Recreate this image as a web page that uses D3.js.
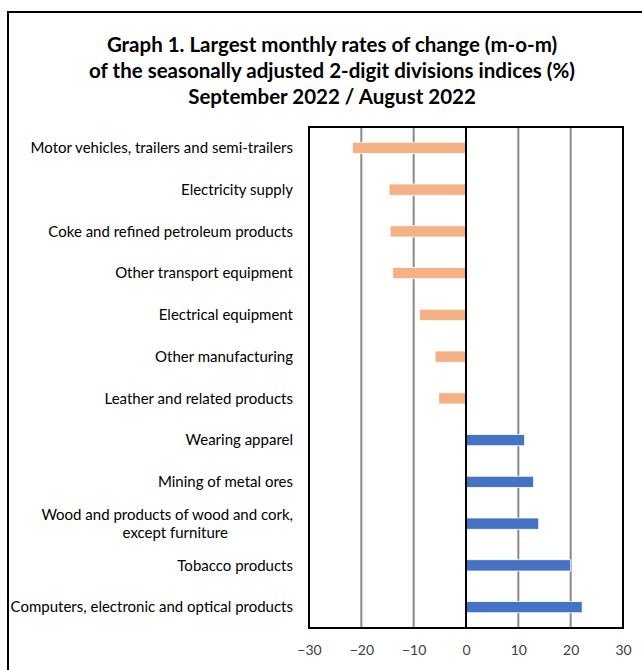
<!DOCTYPE html>
<html>
<head>
<meta charset="utf-8">
<script src="https://cdn.jsdelivr.net/npm/d3@7"></script>
<style>
  body { margin: 0; background: #fff; }
  text { font-family: Lato, "Open Sans", sans-serif; }
</style>
</head>
<body>
<div id="chart"></div>
<script>
var categories = [
    'Motor vehicles, trailers and semi-trailers',
    'Electricity supply',
    'Coke and refined petroleum products',
    'Other transport equipment',
    'Electrical equipment',
    'Other manufacturing',
    'Leather and related products',
    'Wearing apparel',
    'Mining of metal ores',
    'Wood and products of wood and cork,|except furniture',
    'Tobacco products',
    'Computers, electronic and optical products'
];
var values = [-21.7, -14.7, -14.5, -14.0, -8.9, -5.9, -5.2, 11.2, 12.9, 13.9, 20.0, 22.2];
var xTicks = [-30, -20, -10, 0, 10, 20, 30];
var titleLines = [
    'Graph 1. Largest monthly rates of change (m-o-m)',
    'of the seasonally adjusted 2-digit divisions indices (%)',
    'September 2022 / August 2022'
];

var margin = {top: 127, right: 19, bottom: 42, left: 309},
    width = 642 - margin.left - margin.right,
    height = 670 - margin.top - margin.bottom;

var svgRoot = d3.select('#chart').append('svg')
    .attr('width', 642)
    .attr('height', 670);

// outer frame, runs off the right and bottom edge
svgRoot.append('rect')
    .attr('x', 8).attr('y', 12)
    .attr('width', 660).attr('height', 700)
    .attr('fill', 'none')
    .attr('stroke', '#000')
    .attr('stroke-width', 2);

svgRoot.selectAll('.title')
    .data(titleLines)
    .enter().append('text')
    .attr('class', 'title')
    .attr('x', 332)
    .attr('y', function(d, i) { return 52 + i * 26; })
    .attr('text-anchor', 'middle')
    .attr('font-size', '20.5px')
    .attr('font-weight', 'bold')
    .attr('fill', '#000')
    .text(function(d) { return d; });

var svg = svgRoot.append('g')
    .attr('transform', 'translate(' + margin.left + ',' + margin.top + ')');

var x = d3.scaleLinear()
    .domain([-30, 30])
    .range([0, width]);

var y = d3.scaleBand()
    .domain(categories)
    .range([0, height])
    .paddingInner(0.73)
    .paddingOuter(0.365);

// gridlines
svg.selectAll('.grid')
    .data(xTicks.filter(function(d) { return d !== 0 && Math.abs(d) !== 30; }))
    .enter().append('line')
    .attr('class', 'grid')
    .attr('x1', function(d) { return x(d); })
    .attr('x2', function(d) { return x(d); })
    .attr('y1', 0)
    .attr('y2', height)
    .attr('stroke', '#898989')
    .attr('stroke-width', 2);

svg.selectAll('.bar')
    .data(values)
    .enter().append('rect')
    .attr('class', 'bar')
    .attr('x', function(d) { return x(Math.min(0, d)); })
    .attr('y', function(d, i) { return y(categories[i]); })
    .attr('width', function(d) { return Math.abs(x(d) - x(0)); })
    .attr('height', y.bandwidth())
    .attr('fill', function(d) { return d < 0 ? '#F4B183' : '#4472C4'; })
    .attr('stroke', '#fff')
    .attr('stroke-width', 0.8);

// zero line
svg.append('line')
    .attr('x1', x(0)).attr('x2', x(0))
    .attr('y1', 0).attr('y2', height)
    .attr('stroke', '#000')
    .attr('stroke-width', 2);

// plot frame
svg.append('rect')
    .attr('x', 0).attr('y', 0)
    .attr('width', width).attr('height', height)
    .attr('fill', 'none')
    .attr('stroke', '#000')
    .attr('stroke-width', 2);

var xAxis = d3.axisBottom(x)
    .tickValues(xTicks)
    .tickSize(0)
    .tickPadding(17);

var gx = svg.append('g')
    .attr('transform', 'translate(0,' + height + ')')
    .call(xAxis);
gx.select('.domain').remove();
gx.selectAll('text')
    .attr('font-size', '14px')
    .attr('fill', '#404040')
    .style('font-family', 'Lato, sans-serif');

// category labels, right aligned
var labels = svg.selectAll('.cat')
    .data(categories)
    .enter().append('text')
    .attr('class', 'cat')
    .attr('text-anchor', 'end')
    .attr('font-size', '15px')
    .attr('fill', '#000')
    .attr('transform', function(d) {
        return 'translate(-16,' + (y(d) + y.bandwidth() / 2) + ')';
    });

labels.each(function(d) {
    var parts = d.split('|');
    var t = d3.select(this);
    var first = null;
    parts.forEach(function(p, i) {
        var span = t.append('tspan')
            .attr('x', 0)
            .attr('y', (i - (parts.length - 1) / 2) * 18)
            .attr('dy', '0.35em')
            .text(p);
        if (i === 0) {
            first = span;
        } else {
            // wrapped line centred under the first one
            var w = first.node().getComputedTextLength();
            span.attr('x', -w / 2 + 8).attr('text-anchor', 'middle');
        }
    });
});
</script>
</body>
</html>
